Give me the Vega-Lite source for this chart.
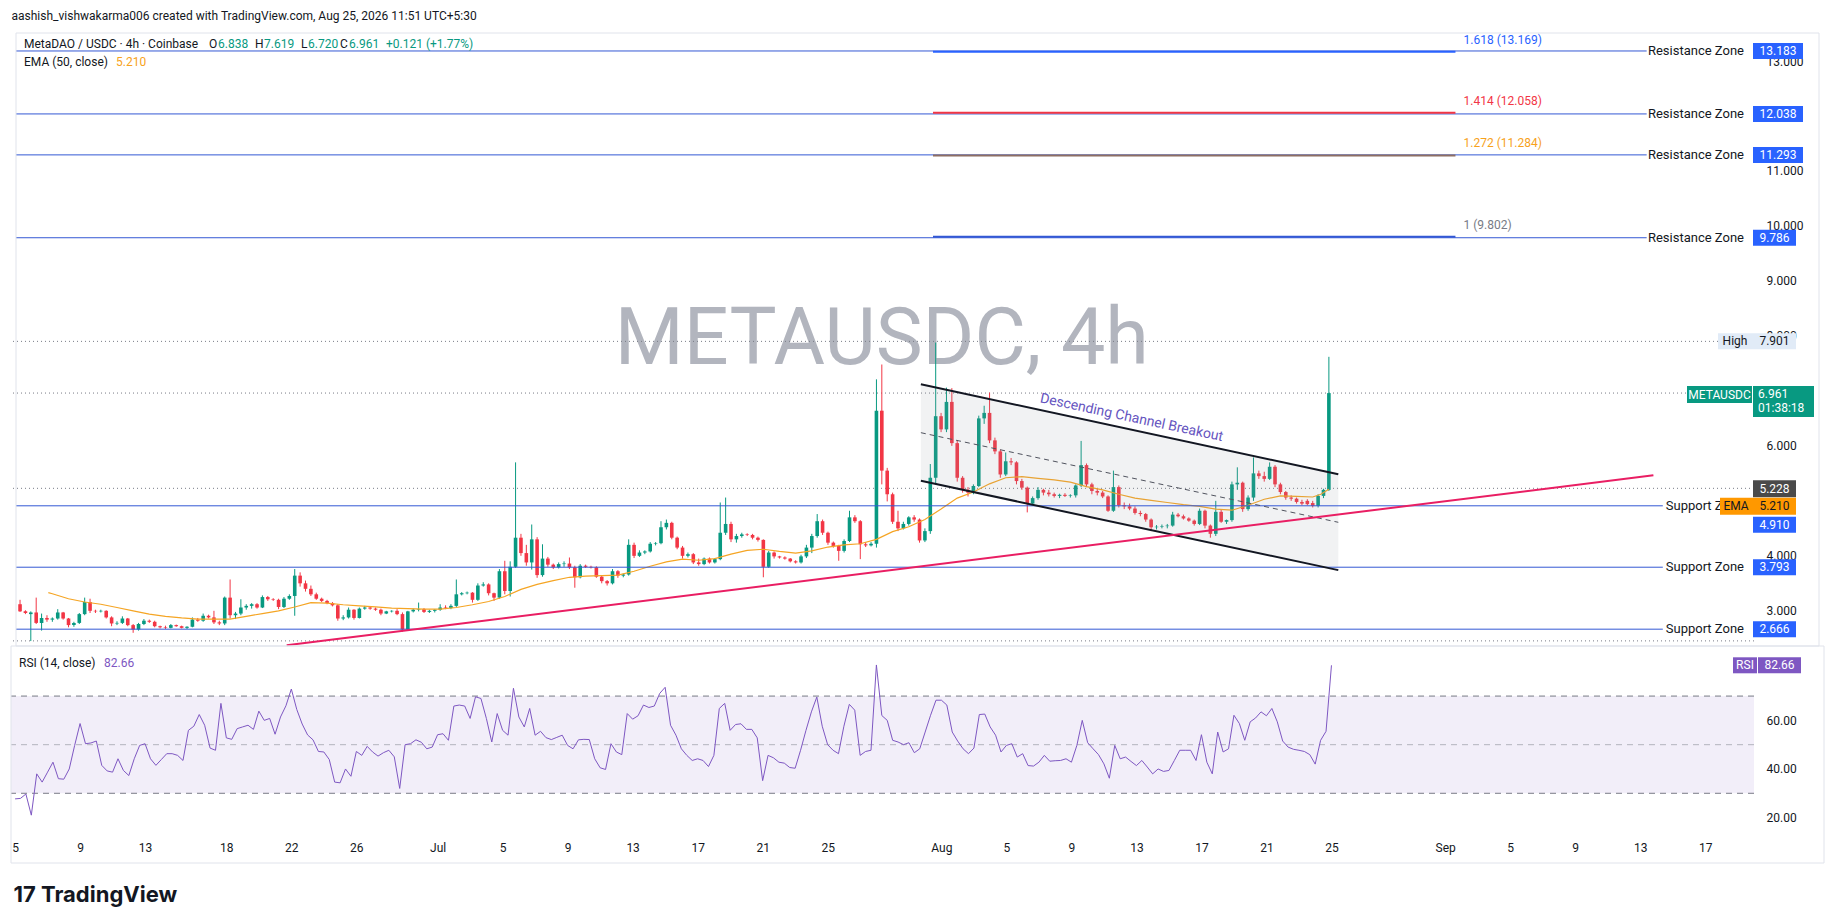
{
  "$schema": "https://vega.github.io/schema/vega-lite/v6.json",
  "padding": {"left": 10, "top": 9, "right": 0, "bottom": 5},
  "background": "#ffffff",
  "title": {"text": "aashish_vishwakarma006 created with TradingView.com, Aug 25, 2026 11:51 UTC+5:30", "anchor": "start", "fontSize": 12, "fontWeight": "normal", "color": "#131722", "offset": 10, "dx": 1},
  "config": {"font": "Roboto", "view": {"stroke": null}, "axis": {"grid": false, "ticks": false, "domain": false, "labelColor": "#131722", "labelFontSize": 12}},
  "bounds": "flush",
  "spacing": 0,
  "resolve": {"scale": {"y": "independent"}},
  "datasets": {
    "c": [
      {"t":"2026-06-05T00:00Z","o":3.12,"h":3.2,"l":2.98,"c":2.99,"r":27.7},
      {"t":"2026-06-05T08:00Z","o":2.99,"h":3.01,"l":2.94,"c":2.96,"r":27.9},
      {"t":"2026-06-05T16:00Z","o":2.94,"h":2.99,"l":2.45,"c":2.97,"r":29.7},
      {"t":"2026-06-06T00:00Z","o":2.97,"h":3.24,"l":2.76,"c":2.78,"r":21},
      {"t":"2026-06-06T08:00Z","o":2.78,"h":2.95,"l":2.64,"c":2.87,"r":38},
      {"t":"2026-06-06T16:00Z","o":2.87,"h":2.92,"l":2.8,"c":2.84,"r":34.6},
      {"t":"2026-06-07T00:00Z","o":2.84,"h":2.88,"l":2.8,"c":2.86,"r":38.7},
      {"t":"2026-06-07T08:00Z","o":2.86,"h":3.03,"l":2.84,"c":2.97,"r":42.8},
      {"t":"2026-06-07T16:00Z","o":2.97,"h":2.98,"l":2.84,"c":2.86,"r":36},
      {"t":"2026-06-08T00:00Z","o":2.86,"h":2.87,"l":2.7,"c":2.74,"r":35.8},
      {"t":"2026-06-08T08:00Z","o":2.74,"h":2.8,"l":2.71,"c":2.78,"r":40},
      {"t":"2026-06-08T16:00Z","o":2.78,"h":2.96,"l":2.76,"c":2.94,"r":49.7},
      {"t":"2026-06-09T00:00Z","o":2.94,"h":3.24,"l":2.92,"c":3.16,"r":58.7},
      {"t":"2026-06-09T08:00Z","o":3.16,"h":3.22,"l":2.96,"c":3.0,"r":50.4},
      {"t":"2026-06-09T16:00Z","o":3.0,"h":3.02,"l":2.96,"c":2.99,"r":50.7},
      {"t":"2026-06-10T00:00Z","o":2.99,"h":3.02,"l":2.97,"c":3.0,"r":51.5},
      {"t":"2026-06-10T08:00Z","o":3.0,"h":3.01,"l":2.86,"c":2.88,"r":41.5},
      {"t":"2026-06-10T16:00Z","o":2.88,"h":2.9,"l":2.72,"c":2.77,"r":39.2},
      {"t":"2026-06-11T00:00Z","o":2.77,"h":2.81,"l":2.74,"c":2.78,"r":38.7},
      {"t":"2026-06-11T08:00Z","o":2.78,"h":2.9,"l":2.76,"c":2.86,"r":44.2},
      {"t":"2026-06-11T16:00Z","o":2.86,"h":2.87,"l":2.72,"c":2.74,"r":39.4},
      {"t":"2026-06-12T00:00Z","o":2.74,"h":2.76,"l":2.6,"c":2.66,"r":37.3},
      {"t":"2026-06-12T08:00Z","o":2.66,"h":2.78,"l":2.64,"c":2.76,"r":44.2},
      {"t":"2026-06-12T16:00Z","o":2.76,"h":2.85,"l":2.74,"c":2.82,"r":49.7},
      {"t":"2026-06-13T00:00Z","o":2.82,"h":2.84,"l":2.78,"c":2.8,"r":50.4},
      {"t":"2026-06-13T08:00Z","o":2.8,"h":2.82,"l":2.7,"c":2.72,"r":44.2},
      {"t":"2026-06-13T16:00Z","o":2.72,"h":2.73,"l":2.68,"c":2.7,"r":41.5},
      {"t":"2026-06-14T00:00Z","o":2.7,"h":2.73,"l":2.67,"c":2.69,"r":43.9},
      {"t":"2026-06-14T08:00Z","o":2.69,"h":2.76,"l":2.68,"c":2.74,"r":46.3},
      {"t":"2026-06-14T16:00Z","o":2.74,"h":2.75,"l":2.71,"c":2.72,"r":46.3},
      {"t":"2026-06-15T00:00Z","o":2.72,"h":2.73,"l":2.68,"c":2.69,"r":45.6},
      {"t":"2026-06-15T08:00Z","o":2.69,"h":2.72,"l":2.67,"c":2.71,"r":43.5},
      {"t":"2026-06-15T16:00Z","o":2.71,"h":2.88,"l":2.7,"c":2.84,"r":55.9},
      {"t":"2026-06-16T00:00Z","o":2.84,"h":2.87,"l":2.8,"c":2.82,"r":57.6},
      {"t":"2026-06-16T08:00Z","o":2.82,"h":2.95,"l":2.8,"c":2.91,"r":62.4},
      {"t":"2026-06-16T16:00Z","o":2.91,"h":2.93,"l":2.86,"c":2.88,"r":58},
      {"t":"2026-06-17T00:00Z","o":2.88,"h":3.0,"l":2.76,"c":2.79,"r":48.6},
      {"t":"2026-06-17T08:00Z","o":2.79,"h":2.82,"l":2.74,"c":2.77,"r":47.7},
      {"t":"2026-06-17T16:00Z","o":2.77,"h":3.26,"l":2.74,"c":3.24,"r":67},
      {"t":"2026-06-18T00:00Z","o":3.24,"h":3.57,"l":2.86,"c":2.92,"r":52.8},
      {"t":"2026-06-18T08:00Z","o":2.92,"h":2.98,"l":2.85,"c":2.95,"r":52.2},
      {"t":"2026-06-18T16:00Z","o":2.95,"h":3.21,"l":2.92,"c":3.06,"r":56.6},
      {"t":"2026-06-19T00:00Z","o":3.06,"h":3.12,"l":3.02,"c":3.09,"r":57.3},
      {"t":"2026-06-19T08:00Z","o":3.09,"h":3.14,"l":3.04,"c":3.12,"r":58},
      {"t":"2026-06-19T16:00Z","o":3.12,"h":3.14,"l":3.04,"c":3.06,"r":56.3},
      {"t":"2026-06-20T00:00Z","o":3.06,"h":3.28,"l":3.05,"c":3.25,"r":63.8},
      {"t":"2026-06-20T08:00Z","o":3.25,"h":3.27,"l":3.18,"c":3.21,"r":60},
      {"t":"2026-06-20T16:00Z","o":3.21,"h":3.23,"l":3.18,"c":3.2,"r":60.8},
      {"t":"2026-06-21T00:00Z","o":3.2,"h":3.22,"l":3.03,"c":3.07,"r":54.3},
      {"t":"2026-06-21T08:00Z","o":3.07,"h":3.25,"l":3.05,"c":3.22,"r":61.4},
      {"t":"2026-06-21T16:00Z","o":3.22,"h":3.3,"l":3.2,"c":3.27,"r":66},
      {"t":"2026-06-22T00:00Z","o":3.27,"h":3.76,"l":2.91,"c":3.64,"r":72.9},
      {"t":"2026-06-22T08:00Z","o":3.64,"h":3.7,"l":3.44,"c":3.5,"r":64.5},
      {"t":"2026-06-22T16:00Z","o":3.5,"h":3.55,"l":3.35,"c":3.4,"r":58.5},
      {"t":"2026-06-23T00:00Z","o":3.4,"h":3.46,"l":3.27,"c":3.3,"r":54},
      {"t":"2026-06-23T08:00Z","o":3.3,"h":3.33,"l":3.2,"c":3.22,"r":52},
      {"t":"2026-06-23T16:00Z","o":3.22,"h":3.24,"l":3.16,"c":3.18,"r":47.2},
      {"t":"2026-06-24T00:00Z","o":3.18,"h":3.2,"l":3.12,"c":3.14,"r":47},
      {"t":"2026-06-24T08:00Z","o":3.14,"h":3.16,"l":3.08,"c":3.1,"r":43.9},
      {"t":"2026-06-24T16:00Z","o":3.1,"h":3.12,"l":2.82,"c":2.86,"r":34.6},
      {"t":"2026-06-25T00:00Z","o":2.86,"h":2.92,"l":2.83,"c":2.88,"r":34.3},
      {"t":"2026-06-25T08:00Z","o":2.88,"h":3.06,"l":2.86,"c":3.02,"r":40},
      {"t":"2026-06-25T16:00Z","o":3.02,"h":3.03,"l":2.84,"c":2.87,"r":37},
      {"t":"2026-06-26T00:00Z","o":2.87,"h":3.06,"l":2.86,"c":3.04,"r":47.2},
      {"t":"2026-06-26T08:00Z","o":3.04,"h":3.09,"l":3.02,"c":3.06,"r":45.6},
      {"t":"2026-06-26T16:00Z","o":3.06,"h":3.08,"l":3.02,"c":3.04,"r":49.3},
      {"t":"2026-06-27T00:00Z","o":3.04,"h":3.06,"l":3.0,"c":3.02,"r":47},
      {"t":"2026-06-27T08:00Z","o":3.02,"h":3.04,"l":2.92,"c":2.95,"r":45.3},
      {"t":"2026-06-27T16:00Z","o":2.95,"h":3.0,"l":2.94,"c":2.99,"r":46.7},
      {"t":"2026-06-28T00:00Z","o":2.99,"h":3.01,"l":2.97,"c":3.0,"r":47.7},
      {"t":"2026-06-28T08:00Z","o":3.0,"h":3.03,"l":2.92,"c":2.94,"r":45},
      {"t":"2026-06-28T16:00Z","o":2.94,"h":2.97,"l":2.62,"c":2.66,"r":32},
      {"t":"2026-06-29T00:00Z","o":2.66,"h":3.0,"l":2.64,"c":2.99,"r":50},
      {"t":"2026-06-29T08:00Z","o":2.99,"h":3.04,"l":2.97,"c":3.02,"r":50.4},
      {"t":"2026-06-29T16:00Z","o":3.02,"h":3.15,"l":2.99,"c":3.03,"r":52},
      {"t":"2026-06-30T00:00Z","o":3.03,"h":3.05,"l":2.96,"c":2.98,"r":51},
      {"t":"2026-06-30T08:00Z","o":2.98,"h":3.02,"l":2.96,"c":3.0,"r":48.3},
      {"t":"2026-06-30T16:00Z","o":3.0,"h":3.03,"l":2.97,"c":3.02,"r":49},
      {"t":"2026-07-01T00:00Z","o":3.02,"h":3.12,"l":3.0,"c":3.06,"r":54.1},
      {"t":"2026-07-01T08:00Z","o":3.06,"h":3.1,"l":3.03,"c":3.05,"r":54.5},
      {"t":"2026-07-01T16:00Z","o":3.05,"h":3.12,"l":3.03,"c":3.09,"r":51.8},
      {"t":"2026-07-02T00:00Z","o":3.09,"h":3.57,"l":3.07,"c":3.3,"r":65.9},
      {"t":"2026-07-02T08:00Z","o":3.3,"h":3.34,"l":3.28,"c":3.32,"r":66.3},
      {"t":"2026-07-02T16:00Z","o":3.32,"h":3.35,"l":3.3,"c":3.33,"r":65.9},
      {"t":"2026-07-03T00:00Z","o":3.33,"h":3.34,"l":3.15,"c":3.2,"r":60.8},
      {"t":"2026-07-03T08:00Z","o":3.2,"h":3.5,"l":3.18,"c":3.46,"r":69.7},
      {"t":"2026-07-03T16:00Z","o":3.46,"h":3.52,"l":3.44,"c":3.48,"r":69},
      {"t":"2026-07-04T00:00Z","o":3.48,"h":3.5,"l":3.28,"c":3.32,"r":60.8},
      {"t":"2026-07-04T08:00Z","o":3.32,"h":3.33,"l":3.18,"c":3.24,"r":51.1},
      {"t":"2026-07-04T16:00Z","o":3.24,"h":3.76,"l":3.22,"c":3.72,"r":62.8},
      {"t":"2026-07-05T00:00Z","o":3.72,"h":3.91,"l":3.3,"c":3.36,"r":55.9},
      {"t":"2026-07-05T08:00Z","o":3.36,"h":3.9,"l":3.26,"c":3.8,"r":53.9},
      {"t":"2026-07-05T16:00Z","o":3.8,"h":5.7,"l":3.78,"c":4.33,"r":73.2},
      {"t":"2026-07-06T00:00Z","o":4.33,"h":4.4,"l":4.0,"c":4.05,"r":61.4},
      {"t":"2026-07-06T08:00Z","o":4.05,"h":4.2,"l":3.82,"c":3.88,"r":57.3},
      {"t":"2026-07-06T16:00Z","o":3.88,"h":4.57,"l":3.75,"c":4.3,"r":64.9},
      {"t":"2026-07-07T00:00Z","o":4.3,"h":4.34,"l":3.6,"c":3.65,"r":53.9},
      {"t":"2026-07-07T08:00Z","o":3.65,"h":4.21,"l":3.62,"c":3.95,"r":55.5},
      {"t":"2026-07-07T16:00Z","o":3.95,"h":3.98,"l":3.8,"c":3.84,"r":52.9},
      {"t":"2026-07-08T00:00Z","o":3.84,"h":3.86,"l":3.76,"c":3.79,"r":52.1},
      {"t":"2026-07-08T08:00Z","o":3.79,"h":3.88,"l":3.77,"c":3.85,"r":53},
      {"t":"2026-07-08T16:00Z","o":3.85,"h":3.9,"l":3.8,"c":3.86,"r":53.9},
      {"t":"2026-07-09T00:00Z","o":3.86,"h":3.97,"l":3.76,"c":3.79,"r":49.7},
      {"t":"2026-07-09T08:00Z","o":3.79,"h":3.82,"l":3.42,"c":3.61,"r":48.3},
      {"t":"2026-07-09T16:00Z","o":3.61,"h":3.85,"l":3.59,"c":3.82,"r":52},
      {"t":"2026-07-10T00:00Z","o":3.82,"h":3.84,"l":3.78,"c":3.8,"r":52.2},
      {"t":"2026-07-10T08:00Z","o":3.8,"h":3.82,"l":3.77,"c":3.79,"r":52.1},
      {"t":"2026-07-10T16:00Z","o":3.79,"h":3.81,"l":3.6,"c":3.62,"r":44.2},
      {"t":"2026-07-11T00:00Z","o":3.62,"h":3.64,"l":3.5,"c":3.54,"r":40.5},
      {"t":"2026-07-11T08:00Z","o":3.54,"h":3.56,"l":3.46,"c":3.5,"r":39.8},
      {"t":"2026-07-11T16:00Z","o":3.5,"h":3.76,"l":3.48,"c":3.72,"r":50.4},
      {"t":"2026-07-12T00:00Z","o":3.72,"h":3.74,"l":3.6,"c":3.64,"r":47},
      {"t":"2026-07-12T08:00Z","o":3.64,"h":3.68,"l":3.61,"c":3.66,"r":45.9},
      {"t":"2026-07-12T16:00Z","o":3.66,"h":4.3,"l":3.64,"c":4.2,"r":62.8},
      {"t":"2026-07-13T00:00Z","o":4.2,"h":4.24,"l":3.96,"c":4.0,"r":60.5},
      {"t":"2026-07-13T08:00Z","o":4.0,"h":4.1,"l":3.98,"c":4.06,"r":61.9},
      {"t":"2026-07-13T16:00Z","o":4.06,"h":4.1,"l":4.03,"c":4.08,"r":66.3},
      {"t":"2026-07-14T00:00Z","o":4.08,"h":4.25,"l":4.06,"c":4.22,"r":65.3},
      {"t":"2026-07-14T08:00Z","o":4.22,"h":4.25,"l":4.19,"c":4.23,"r":65.9},
      {"t":"2026-07-14T16:00Z","o":4.23,"h":4.63,"l":4.21,"c":4.52,"r":71.1},
      {"t":"2026-07-15T00:00Z","o":4.52,"h":4.66,"l":4.48,"c":4.6,"r":73.6},
      {"t":"2026-07-15T08:00Z","o":4.6,"h":4.62,"l":4.3,"c":4.33,"r":58},
      {"t":"2026-07-15T16:00Z","o":4.33,"h":4.35,"l":4.12,"c":4.15,"r":53.9},
      {"t":"2026-07-16T00:00Z","o":4.15,"h":4.18,"l":3.95,"c":4.0,"r":48.3},
      {"t":"2026-07-16T08:00Z","o":4.0,"h":4.06,"l":3.97,"c":4.03,"r":45.6},
      {"t":"2026-07-16T16:00Z","o":4.03,"h":4.05,"l":3.85,"c":3.88,"r":43.5},
      {"t":"2026-07-17T00:00Z","o":3.88,"h":3.95,"l":3.82,"c":3.85,"r":44.2},
      {"t":"2026-07-17T08:00Z","o":3.85,"h":3.97,"l":3.83,"c":3.95,"r":43.5},
      {"t":"2026-07-17T16:00Z","o":3.95,"h":3.97,"l":3.86,"c":3.88,"r":41},
      {"t":"2026-07-18T00:00Z","o":3.88,"h":3.96,"l":3.86,"c":3.94,"r":45.6},
      {"t":"2026-07-18T08:00Z","o":3.94,"h":4.97,"l":3.92,"c":4.42,"r":64.9},
      {"t":"2026-07-18T16:00Z","o":4.42,"h":5.06,"l":4.38,"c":4.58,"r":67},
      {"t":"2026-07-19T00:00Z","o":4.58,"h":4.62,"l":4.25,"c":4.3,"r":55.9},
      {"t":"2026-07-19T08:00Z","o":4.3,"h":4.4,"l":4.24,"c":4.36,"r":58.3},
      {"t":"2026-07-19T16:00Z","o":4.36,"h":4.42,"l":4.33,"c":4.39,"r":58.6},
      {"t":"2026-07-20T00:00Z","o":4.39,"h":4.41,"l":4.36,"c":4.38,"r":56.3},
      {"t":"2026-07-20T08:00Z","o":4.38,"h":4.4,"l":4.3,"c":4.33,"r":56.3},
      {"t":"2026-07-20T16:00Z","o":4.33,"h":4.35,"l":4.26,"c":4.29,"r":52.8},
      {"t":"2026-07-21T00:00Z","o":4.29,"h":4.3,"l":3.61,"c":3.8,"r":35.2},
      {"t":"2026-07-21T08:00Z","o":3.8,"h":4.09,"l":3.78,"c":4.06,"r":45.6},
      {"t":"2026-07-21T16:00Z","o":4.06,"h":4.08,"l":3.95,"c":3.99,"r":44.6},
      {"t":"2026-07-22T00:00Z","o":3.99,"h":4.0,"l":3.95,"c":3.97,"r":42.8},
      {"t":"2026-07-22T08:00Z","o":3.97,"h":3.99,"l":3.93,"c":3.95,"r":42.4},
      {"t":"2026-07-22T16:00Z","o":3.95,"h":3.96,"l":3.88,"c":3.9,"r":40.6},
      {"t":"2026-07-23T00:00Z","o":3.9,"h":3.92,"l":3.86,"c":3.88,"r":40.3},
      {"t":"2026-07-23T08:00Z","o":3.88,"h":4.02,"l":3.86,"c":3.99,"r":47.7},
      {"t":"2026-07-23T16:00Z","o":3.99,"h":4.2,"l":3.96,"c":4.15,"r":55.9},
      {"t":"2026-07-24T00:00Z","o":4.15,"h":4.4,"l":4.05,"c":4.36,"r":63.5},
      {"t":"2026-07-24T08:00Z","o":4.36,"h":4.76,"l":4.33,"c":4.63,"r":69.6},
      {"t":"2026-07-24T16:00Z","o":4.63,"h":4.66,"l":4.38,"c":4.42,"r":57.6},
      {"t":"2026-07-25T00:00Z","o":4.42,"h":4.44,"l":4.2,"c":4.24,"r":50},
      {"t":"2026-07-25T08:00Z","o":4.24,"h":4.26,"l":4.15,"c":4.18,"r":47.7},
      {"t":"2026-07-25T16:00Z","o":4.18,"h":4.2,"l":3.91,"c":4.09,"r":46.3},
      {"t":"2026-07-26T00:00Z","o":4.09,"h":4.3,"l":4.06,"c":4.27,"r":57.6},
      {"t":"2026-07-26T08:00Z","o":4.27,"h":4.82,"l":4.25,"c":4.7,"r":66.6},
      {"t":"2026-07-26T16:00Z","o":4.7,"h":4.74,"l":4.6,"c":4.63,"r":64.2},
      {"t":"2026-07-27T00:00Z","o":4.63,"h":4.65,"l":3.94,"c":4.21,"r":45.6},
      {"t":"2026-07-27T08:00Z","o":4.21,"h":4.25,"l":4.16,"c":4.19,"r":47.2},
      {"t":"2026-07-27T16:00Z","o":4.19,"h":4.25,"l":4.17,"c":4.22,"r":47.7},
      {"t":"2026-07-28T00:00Z","o":4.22,"h":7.21,"l":4.15,"c":6.64,"r":82.8},
      {"t":"2026-07-28T08:00Z","o":6.64,"h":7.48,"l":5.3,"c":5.55,"r":62},
      {"t":"2026-07-28T16:00Z","o":5.55,"h":5.6,"l":4.99,"c":5.12,"r":60},
      {"t":"2026-07-29T00:00Z","o":5.12,"h":5.15,"l":4.58,"c":4.62,"r":51.8},
      {"t":"2026-07-29T08:00Z","o":4.62,"h":4.82,"l":4.45,"c":4.5,"r":51.1},
      {"t":"2026-07-29T16:00Z","o":4.5,"h":4.62,"l":4.48,"c":4.58,"r":50},
      {"t":"2026-07-30T00:00Z","o":4.58,"h":4.72,"l":4.55,"c":4.7,"r":50.8},
      {"t":"2026-07-30T08:00Z","o":4.7,"h":4.74,"l":4.62,"c":4.66,"r":46.7},
      {"t":"2026-07-30T16:00Z","o":4.66,"h":4.68,"l":4.24,"c":4.28,"r":48.3},
      {"t":"2026-07-31T00:00Z","o":4.28,"h":4.5,"l":4.25,"c":4.45,"r":55.2},
      {"t":"2026-07-31T08:00Z","o":4.45,"h":5.67,"l":4.4,"c":5.42,"r":62.1},
      {"t":"2026-07-31T16:00Z","o":5.42,"h":7.88,"l":5.3,"c":6.54,"r":68.3},
      {"t":"2026-08-01T00:00Z","o":6.54,"h":6.6,"l":6.25,"c":6.3,"r":68.3},
      {"t":"2026-08-01T08:00Z","o":6.3,"h":7.06,"l":6.25,"c":6.8,"r":66.3},
      {"t":"2026-08-01T16:00Z","o":6.8,"h":7.05,"l":6.0,"c":6.05,"r":55.2},
      {"t":"2026-08-02T00:00Z","o":6.05,"h":6.1,"l":5.35,"c":5.42,"r":51.5},
      {"t":"2026-08-02T08:00Z","o":5.42,"h":5.45,"l":5.15,"c":5.2,"r":48.3},
      {"t":"2026-08-02T16:00Z","o":5.2,"h":5.25,"l":5.08,"c":5.15,"r":46.3},
      {"t":"2026-08-03T00:00Z","o":5.15,"h":5.3,"l":5.12,"c":5.27,"r":48.6},
      {"t":"2026-08-03T08:00Z","o":5.27,"h":6.55,"l":5.25,"c":6.5,"r":62.4},
      {"t":"2026-08-03T16:00Z","o":6.5,"h":6.73,"l":6.4,"c":6.6,"r":62.6},
      {"t":"2026-08-04T00:00Z","o":6.6,"h":6.97,"l":6.05,"c":6.1,"r":57.3},
      {"t":"2026-08-04T08:00Z","o":6.1,"h":6.15,"l":5.85,"c":5.9,"r":53.9},
      {"t":"2026-08-04T16:00Z","o":5.9,"h":5.93,"l":5.42,"c":5.48,"r":47},
      {"t":"2026-08-05T00:00Z","o":5.48,"h":5.88,"l":5.45,"c":5.72,"r":49.7},
      {"t":"2026-08-05T08:00Z","o":5.72,"h":5.78,"l":5.65,"c":5.7,"r":50.4},
      {"t":"2026-08-05T16:00Z","o":5.7,"h":5.72,"l":5.3,"c":5.36,"r":44.9},
      {"t":"2026-08-06T00:00Z","o":5.36,"h":5.4,"l":5.2,"c":5.24,"r":46.3},
      {"t":"2026-08-06T08:00Z","o":5.24,"h":5.26,"l":4.79,"c":4.95,"r":41.4},
      {"t":"2026-08-06T16:00Z","o":4.95,"h":5.08,"l":4.93,"c":5.05,"r":41.2},
      {"t":"2026-08-07T00:00Z","o":5.05,"h":5.25,"l":5.02,"c":5.2,"r":42.8},
      {"t":"2026-08-07T08:00Z","o":5.2,"h":5.22,"l":5.1,"c":5.15,"r":45.6},
      {"t":"2026-08-07T16:00Z","o":5.15,"h":5.2,"l":5.08,"c":5.12,"r":43.2},
      {"t":"2026-08-08T00:00Z","o":5.12,"h":5.15,"l":5.06,"c":5.09,"r":43.4},
      {"t":"2026-08-08T08:00Z","o":5.09,"h":5.13,"l":5.05,"c":5.11,"r":43.5},
      {"t":"2026-08-08T16:00Z","o":5.11,"h":5.14,"l":5.07,"c":5.09,"r":44.2},
      {"t":"2026-08-09T00:00Z","o":5.09,"h":5.12,"l":5.06,"c":5.1,"r":42.8},
      {"t":"2026-08-09T08:00Z","o":5.1,"h":5.3,"l":5.06,"c":5.28,"r":49.7},
      {"t":"2026-08-09T16:00Z","o":5.28,"h":6.09,"l":5.25,"c":5.65,"r":60},
      {"t":"2026-08-10T00:00Z","o":5.65,"h":5.68,"l":5.25,"c":5.3,"r":50.8},
      {"t":"2026-08-10T08:00Z","o":5.3,"h":5.33,"l":5.12,"c":5.18,"r":48.3},
      {"t":"2026-08-10T16:00Z","o":5.18,"h":5.22,"l":5.1,"c":5.15,"r":45.9},
      {"t":"2026-08-11T00:00Z","o":5.15,"h":5.18,"l":5.05,"c":5.08,"r":42.1},
      {"t":"2026-08-11T08:00Z","o":5.08,"h":5.1,"l":4.8,"c":4.82,"r":36.2},
      {"t":"2026-08-11T16:00Z","o":4.82,"h":5.55,"l":4.8,"c":5.25,"r":49.7},
      {"t":"2026-08-12T00:00Z","o":5.25,"h":5.28,"l":4.88,"c":4.92,"r":44.2},
      {"t":"2026-08-12T08:00Z","o":4.92,"h":4.97,"l":4.85,"c":4.9,"r":44.9},
      {"t":"2026-08-12T16:00Z","o":4.9,"h":4.95,"l":4.83,"c":4.86,"r":43.1},
      {"t":"2026-08-13T00:00Z","o":4.86,"h":4.9,"l":4.75,"c":4.78,"r":41.4},
      {"t":"2026-08-13T08:00Z","o":4.78,"h":4.82,"l":4.72,"c":4.76,"r":43.5},
      {"t":"2026-08-13T16:00Z","o":4.76,"h":4.78,"l":4.62,"c":4.66,"r":40.8},
      {"t":"2026-08-14T00:00Z","o":4.66,"h":4.68,"l":4.45,"c":4.52,"r":38},
      {"t":"2026-08-14T08:00Z","o":4.52,"h":4.56,"l":4.48,"c":4.53,"r":40},
      {"t":"2026-08-14T16:00Z","o":4.53,"h":4.57,"l":4.5,"c":4.54,"r":39},
      {"t":"2026-08-15T00:00Z","o":4.54,"h":4.58,"l":4.5,"c":4.55,"r":39.4},
      {"t":"2026-08-15T08:00Z","o":4.55,"h":4.8,"l":4.53,"c":4.75,"r":43.5},
      {"t":"2026-08-15T16:00Z","o":4.75,"h":4.78,"l":4.7,"c":4.72,"r":47.7},
      {"t":"2026-08-16T00:00Z","o":4.72,"h":4.75,"l":4.66,"c":4.68,"r":47.7},
      {"t":"2026-08-16T08:00Z","o":4.68,"h":4.7,"l":4.62,"c":4.64,"r":47.7},
      {"t":"2026-08-16T16:00Z","o":4.64,"h":4.66,"l":4.55,"c":4.58,"r":43.5},
      {"t":"2026-08-17T00:00Z","o":4.58,"h":4.86,"l":4.56,"c":4.82,"r":54.1},
      {"t":"2026-08-17T08:00Z","o":4.82,"h":4.84,"l":4.5,"c":4.55,"r":42.8},
      {"t":"2026-08-17T16:00Z","o":4.55,"h":4.57,"l":4.33,"c":4.4,"r":38},
      {"t":"2026-08-18T00:00Z","o":4.4,"h":5.0,"l":4.36,"c":4.8,"r":55.2},
      {"t":"2026-08-18T08:00Z","o":4.8,"h":4.85,"l":4.6,"c":4.62,"r":47},
      {"t":"2026-08-18T16:00Z","o":4.62,"h":4.66,"l":4.58,"c":4.65,"r":48.3},
      {"t":"2026-08-19T00:00Z","o":4.65,"h":5.35,"l":4.62,"c":5.3,"r":62.1},
      {"t":"2026-08-19T08:00Z","o":5.3,"h":5.61,"l":5.2,"c":5.33,"r":58.7},
      {"t":"2026-08-19T16:00Z","o":5.33,"h":5.35,"l":4.8,"c":4.85,"r":51.8},
      {"t":"2026-08-20T00:00Z","o":4.85,"h":5.1,"l":4.82,"c":5.06,"r":59.4},
      {"t":"2026-08-20T08:00Z","o":5.06,"h":5.79,"l":5.0,"c":5.5,"r":61},
      {"t":"2026-08-20T16:00Z","o":5.5,"h":5.55,"l":5.4,"c":5.45,"r":63.5},
      {"t":"2026-08-21T00:00Z","o":5.45,"h":5.53,"l":5.35,"c":5.4,"r":61.9},
      {"t":"2026-08-21T08:00Z","o":5.4,"h":5.7,"l":5.38,"c":5.62,"r":64.9},
      {"t":"2026-08-21T16:00Z","o":5.62,"h":5.65,"l":5.25,"c":5.3,"r":59.4},
      {"t":"2026-08-22T00:00Z","o":5.3,"h":5.33,"l":5.12,"c":5.16,"r":51.5},
      {"t":"2026-08-22T08:00Z","o":5.16,"h":5.18,"l":5.02,"c":5.06,"r":49},
      {"t":"2026-08-22T16:00Z","o":5.06,"h":5.1,"l":5.0,"c":5.04,"r":48.1},
      {"t":"2026-08-23T00:00Z","o":5.04,"h":5.06,"l":4.95,"c":4.98,"r":47.7},
      {"t":"2026-08-23T08:00Z","o":4.98,"h":5.02,"l":4.92,"c":4.95,"r":47.2},
      {"t":"2026-08-23T16:00Z","o":5.0,"h":5.03,"l":4.92,"c":4.94,"r":45.9},
      {"t":"2026-08-24T00:00Z","o":4.96,"h":5.0,"l":4.88,"c":4.91,"r":42},
      {"t":"2026-08-24T08:00Z","o":4.91,"h":5.12,"l":4.88,"c":5.09,"r":51.8},
      {"t":"2026-08-24T16:00Z","o":5.09,"h":5.22,"l":5.05,"c":5.2,"r":55.5},
      {"t":"2026-08-25T00:00Z","o":5.2,"h":7.62,"l":5.18,"c":6.96,"r":82.66}
    ],
    "ema": [
      {"t":"2026-06-06T18:00Z","e":3.33},{"t":"2026-06-07T00:00Z","e":3.31},{"t":"2026-06-08T00:00Z","e":3.22},{"t":"2026-06-09T00:00Z","e":3.16},
      {"t":"2026-06-10T00:00Z","e":3.12},{"t":"2026-06-11T00:00Z","e":3.06},{"t":"2026-06-12T00:00Z","e":3.0},{"t":"2026-06-13T00:00Z","e":2.94},
      {"t":"2026-06-14T00:00Z","e":2.9},{"t":"2026-06-15T00:00Z","e":2.87},{"t":"2026-06-16T00:00Z","e":2.85},{"t":"2026-06-17T00:00Z","e":2.85},
      {"t":"2026-06-18T00:00Z","e":2.85},{"t":"2026-06-19T00:00Z","e":2.9},{"t":"2026-06-20T00:00Z","e":2.95},{"t":"2026-06-21T00:00Z","e":3.0},
      {"t":"2026-06-22T00:00Z","e":3.07},{"t":"2026-06-23T00:00Z","e":3.15},{"t":"2026-06-24T00:00Z","e":3.14},{"t":"2026-06-25T00:00Z","e":3.11},
      {"t":"2026-06-26T00:00Z","e":3.09},{"t":"2026-06-27T00:00Z","e":3.07},{"t":"2026-06-28T00:00Z","e":3.05},{"t":"2026-06-29T00:00Z","e":3.04},
      {"t":"2026-06-30T00:00Z","e":3.03},{"t":"2026-07-01T00:00Z","e":3.03},{"t":"2026-07-02T00:00Z","e":3.06},{"t":"2026-07-03T00:00Z","e":3.11},
      {"t":"2026-07-04T00:00Z","e":3.17},{"t":"2026-07-05T00:00Z","e":3.26},{"t":"2026-07-06T00:00Z","e":3.39},{"t":"2026-07-07T00:00Z","e":3.48},
      {"t":"2026-07-08T00:00Z","e":3.55},{"t":"2026-07-09T00:00Z","e":3.61},{"t":"2026-07-10T00:00Z","e":3.63},{"t":"2026-07-11T00:00Z","e":3.64},
      {"t":"2026-07-12T00:00Z","e":3.65},{"t":"2026-07-13T00:00Z","e":3.72},{"t":"2026-07-14T00:00Z","e":3.81},{"t":"2026-07-15T00:00Z","e":3.89},
      {"t":"2026-07-16T00:00Z","e":3.94},{"t":"2026-07-17T00:00Z","e":3.92},{"t":"2026-07-18T00:00Z","e":3.95},{"t":"2026-07-19T00:00Z","e":4.03},
      {"t":"2026-07-20T00:00Z","e":4.1},{"t":"2026-07-21T00:00Z","e":4.12},{"t":"2026-07-22T00:00Z","e":4.08},{"t":"2026-07-23T00:00Z","e":4.05},
      {"t":"2026-07-24T00:00Z","e":4.09},{"t":"2026-07-25T00:00Z","e":4.16},{"t":"2026-07-26T00:00Z","e":4.2},{"t":"2026-07-27T00:00Z","e":4.22},
      {"t":"2026-07-28T00:00Z","e":4.3},{"t":"2026-07-29T00:00Z","e":4.44},{"t":"2026-07-30T00:00Z","e":4.53},{"t":"2026-07-31T00:00Z","e":4.66},
      {"t":"2026-08-01T00:00Z","e":4.85},{"t":"2026-08-02T00:00Z","e":5.05},{"t":"2026-08-03T00:00Z","e":5.16},{"t":"2026-08-04T00:00Z","e":5.31},
      {"t":"2026-08-05T00:00Z","e":5.42},{"t":"2026-08-06T00:00Z","e":5.44},{"t":"2026-08-07T00:00Z","e":5.41},{"t":"2026-08-08T00:00Z","e":5.38},
      {"t":"2026-08-09T00:00Z","e":5.34},{"t":"2026-08-10T00:00Z","e":5.26},{"t":"2026-08-11T00:00Z","e":5.2},{"t":"2026-08-12T00:00Z","e":5.12},
      {"t":"2026-08-13T00:00Z","e":5.05},{"t":"2026-08-14T00:00Z","e":5.01},{"t":"2026-08-15T00:00Z","e":4.97},{"t":"2026-08-16T00:00Z","e":4.93},
      {"t":"2026-08-17T00:00Z","e":4.9},{"t":"2026-08-18T00:00Z","e":4.85},{"t":"2026-08-19T00:00Z","e":4.83},{"t":"2026-08-20T00:00Z","e":4.92},
      {"t":"2026-08-21T00:00Z","e":5.03},{"t":"2026-08-22T00:00Z","e":5.09},{"t":"2026-08-23T00:00Z","e":5.08},{"t":"2026-08-24T00:00Z","e":5.07},
      {"t":"2026-08-24T12:00Z","e":5.12},{"t":"2026-08-25T00:00Z","e":5.21}
    ]
  },
  "vconcat": [
    {
      "width": 1743,
      "height": 613,
      "resolve": {"axis": {"x": "independent", "y": "independent"}},
      "layer": [
        {
          "data": {"values": [{"t": "2026-07-28T08:00Z", "p": 7.49, "s": "METAUSDC, 4h"}]},
          "mark": {"type": "text", "fontSize": 79, "color": "#b2b5be", "align": "center", "baseline": "alphabetic"},
          "encoding": {
            "x": {"field": "t", "type": "temporal", "axis": null},
            "y": {"field": "p", "type": "quantitative", "axis": null},
            "text": {"field": "s"}
          }
        },
        {
          "data": {"values": [{"p": 7.901}, {"p": 6.961}, {"p": 5.228}, {"p": 2.453}]},
          "mark": {"type": "rule", "color": "#787b86", "strokeDash": [1, 3], "strokeWidth": 1},
          "encoding": {"y": {"field": "p", "type": "quantitative", "axis": null}}
        },
        {
          "data": {"name": "c"},
          "resolve": {"axis": {"x": "independent", "y": "independent"}},
          "encoding": {
            "x": {"field": "t", "type": "temporal", "axis": null,
                  "scale": {"type": "utc", "nice": false, "domain": [{"year": 2026, "month": 6, "date": 4, "hours": 18, "utc": true}, {"year": 2026, "month": 9, "date": 20, "utc": true}]}},
            "color": {"condition": {"test": "datum.c >= datum.o", "value": "#089981"}, "value": "#f23645"}
          },
          "layer": [
            {
              "mark": {"type": "rule", "strokeWidth": 1},
              "encoding": {
                "y": {"field": "l", "type": "quantitative", "scale": {"domain": [2.36, 13.51], "nice": false, "zero": false},
                      "axis": {"orient": "right", "values": [3, 4, 6, 8, 9, 10, 11, 13], "format": ".3f", "labelPadding": 12, "title": null}},
                "y2": {"field": "h"}
              }
            },
            {
              "mark": {"type": "bar", "width": 3.6},
              "encoding": {
                "y": {"field": "o", "type": "quantitative", "axis": null},
                "y2": {"field": "c"}
              }
            }
          ]
        },
        {
          "data": {"name": "ema"},
          "mark": {"type": "line", "color": "#f5a524", "strokeWidth": 1.2},
          "encoding": {
            "x": {"field": "t", "type": "temporal", "axis": null},
            "y": {"field": "e", "type": "quantitative", "axis": null}
          }
        },
        {
          "data": {"values": [{"t": "2026-07-30T18:00Z", "u": 7.12, "b": 5.364}, {"t": "2026-08-25T14:00Z", "u": 5.485, "b": 3.74}]},
          "mark": {"type": "area", "color": "#9598a1", "opacity": 0.13},
          "encoding": {
            "x": {"field": "t", "type": "temporal", "axis": null},
            "y": {"field": "u", "type": "quantitative", "axis": null},
            "y2": {"field": "b"}
          }
        },
        {
          "data": {"values": [{"p": 13.183}, {"p": 12.038}, {"p": 11.293}, {"p": 9.786}]},
          "mark": {"type": "rule", "color": "#3358d4", "strokeWidth": 1},
          "encoding": {
            "x": {"datum": {"year": 2026, "month": 6, "date": 4, "hours": 18, "utc": true}, "type": "temporal", "axis": null},
            "x2": {"datum": {"year": 2026, "month": 9, "date": 13, "hours": 16, "utc": true}},
            "y": {"field": "p", "type": "quantitative", "axis": null}
          }
        },
        {
          "data": {"values": [{"p": 4.91}, {"p": 3.793}, {"p": 2.666}]},
          "mark": {"type": "rule", "color": "#3358d4", "strokeWidth": 1},
          "encoding": {
            "x": {"datum": {"year": 2026, "month": 6, "date": 4, "hours": 18, "utc": true}, "type": "temporal", "axis": null},
            "x2": {"datum": {"year": 2026, "month": 9, "date": 14, "hours": 16, "utc": true}},
            "y": {"field": "p", "type": "quantitative", "axis": null}
          }
        },
        {
          "data": {"values": [
            {"p": 13.169, "f": "1.618", "s": "1.618 (13.169)"},
            {"p": 12.058, "f": "1.414", "s": "1.414 (12.058)"},
            {"p": 11.284, "f": "1.272", "s": "1.272 (11.284)"},
            {"p": 9.802, "f": "1", "s": "1 (9.802)"}
          ]},
          "resolve": {"axis": {"x": "independent", "y": "independent"}},
          "layer": [
            {
              "mark": {"type": "rule", "strokeWidth": 2},
              "encoding": {
                "x": {"datum": {"year": 2026, "month": 7, "date": 31, "hours": 12, "utc": true}, "type": "temporal", "axis": null},
                "x2": {"datum": {"year": 2026, "month": 9, "date": 1, "hours": 20, "utc": true}},
                "y": {"field": "p", "type": "quantitative", "axis": null},
                "stroke": {"field": "f", "type": "nominal", "legend": null,
                           "scale": {"domain": ["1.618", "1.414", "1.272", "1"], "range": ["#2962ff", "#f23645", "#8d6e63", "#3358d4"]}}
              }
            },
            {
              "mark": {"type": "text", "align": "left", "baseline": "middle", "dy": -12, "fontSize": 12},
              "encoding": {
                "x": {"datum": {"year": 2026, "month": 9, "date": 2, "hours": 8, "utc": true}, "type": "temporal", "axis": null},
                "y": {"field": "p", "type": "quantitative", "axis": null},
                "text": {"field": "s"},
                "fill": {"field": "f", "type": "nominal", "legend": null,
                         "scale": {"domain": ["1.618", "1.414", "1.272", "1"], "range": ["#2962ff", "#f23645", "#f7a21b", "#787b86"]}}
              }
            }
          ]
        },
        {
          "data": {"values": [
            {"t1": "2026-07-30T18:00Z", "p1": 7.12, "t2": "2026-08-25T14:00Z", "p2": 5.485},
            {"t1": "2026-07-30T18:00Z", "p1": 5.364, "t2": "2026-08-25T14:00Z", "p2": 3.74}
          ]},
          "mark": {"type": "rule", "color": "#131722", "strokeWidth": 2},
          "encoding": {
            "x": {"field": "t1", "type": "temporal", "axis": null},
            "x2": {"field": "t2"},
            "y": {"field": "p1", "type": "quantitative", "axis": null},
            "y2": {"field": "p2"}
          }
        },
        {
          "data": {"values": [{"t1": "2026-07-30T18:00Z", "p1": 6.24, "t2": "2026-08-25T14:00Z", "p2": 4.61}]},
          "mark": {"type": "rule", "color": "#50535e", "strokeWidth": 1, "strokeDash": [5, 4]},
          "encoding": {
            "x": {"field": "t1", "type": "temporal", "axis": null},
            "x2": {"field": "t2"},
            "y": {"field": "p1", "type": "quantitative", "axis": null},
            "y2": {"field": "p2"}
          }
        },
        {
          "data": {"values": [{"t1": "2026-06-21T12:00Z", "p1": 2.372, "t2": "2026-09-14T02:00Z", "p2": 5.465}]},
          "mark": {"type": "rule", "color": "#e91e63", "strokeWidth": 2},
          "encoding": {
            "x": {"field": "t1", "type": "temporal", "axis": null},
            "x2": {"field": "t2"},
            "y": {"field": "p1", "type": "quantitative", "axis": null},
            "y2": {"field": "p2"}
          }
        },
        {
          "data": {"values": [{"t": "2026-08-12T19:00Z", "p": 6.51, "s": "Descending Channel Breakout"}]},
          "mark": {"type": "text", "angle": 12, "fontSize": 14, "color": "#6554c0", "align": "center", "baseline": "middle"},
          "encoding": {
            "x": {"field": "t", "type": "temporal", "axis": null},
            "y": {"field": "p", "type": "quantitative", "axis": null},
            "text": {"field": "s"}
          }
        },
        {
          "data": {"values": [
            {"p": 13.183, "k": "Resistance Zone"}, {"p": 12.038, "k": "Resistance Zone"}, {"p": 11.293, "k": "Resistance Zone"}, {"p": 9.786, "k": "Resistance Zone"},
            {"p": 4.91, "k": "Support Zone"}, {"p": 3.793, "k": "Support Zone"}, {"p": 2.666, "k": "Support Zone"}
          ]},
          "mark": {"type": "text", "align": "right", "baseline": "middle", "dx": -5, "fontSize": 13, "color": "#131722"},
          "encoding": {
            "x": {"datum": {"year": 2026, "month": 9, "date": 20, "utc": true}, "type": "temporal", "axis": null},
            "y": {"field": "p", "type": "quantitative", "axis": null},
            "text": {"field": "k"}
          }
        },
        {
          "data": {"values": [{}]},
          "resolve": {"axis": {"x": "independent", "y": "independent"}},
          "encoding": {
            "x": {"datum": {"year": 2026, "month": 6, "date": 4, "hours": 18, "utc": true}, "type": "temporal", "axis": null}
          },
          "layer": [
            {"mark": {"type": "text", "text": "MetaDAO / USDC · 4h · Coinbase", "align": "left", "baseline": "middle", "dx": 8, "fontSize": 12, "color": "#131722"},
             "encoding": {"y": {"datum": 13.31, "type": "quantitative", "axis": null}}},
            {"mark": {"type": "text", "text": "O", "align": "left", "baseline": "middle", "dx": 193, "fontSize": 12, "color": "#131722"},
             "encoding": {"y": {"datum": 13.31, "type": "quantitative", "axis": null}}},
            {"mark": {"type": "text", "text": "6.838", "align": "left", "baseline": "middle", "dx": 202, "fontSize": 12, "color": "#089981"},
             "encoding": {"y": {"datum": 13.31, "type": "quantitative", "axis": null}}},
            {"mark": {"type": "text", "text": "H", "align": "left", "baseline": "middle", "dx": 239, "fontSize": 12, "color": "#131722"},
             "encoding": {"y": {"datum": 13.31, "type": "quantitative", "axis": null}}},
            {"mark": {"type": "text", "text": "7.619", "align": "left", "baseline": "middle", "dx": 248, "fontSize": 12, "color": "#089981"},
             "encoding": {"y": {"datum": 13.31, "type": "quantitative", "axis": null}}},
            {"mark": {"type": "text", "text": "L", "align": "left", "baseline": "middle", "dx": 285, "fontSize": 12, "color": "#131722"},
             "encoding": {"y": {"datum": 13.31, "type": "quantitative", "axis": null}}},
            {"mark": {"type": "text", "text": "6.720", "align": "left", "baseline": "middle", "dx": 292, "fontSize": 12, "color": "#089981"},
             "encoding": {"y": {"datum": 13.31, "type": "quantitative", "axis": null}}},
            {"mark": {"type": "text", "text": "C", "align": "left", "baseline": "middle", "dx": 324, "fontSize": 12, "color": "#131722"},
             "encoding": {"y": {"datum": 13.31, "type": "quantitative", "axis": null}}},
            {"mark": {"type": "text", "text": "6.961", "align": "left", "baseline": "middle", "dx": 333, "fontSize": 12, "color": "#089981"},
             "encoding": {"y": {"datum": 13.31, "type": "quantitative", "axis": null}}},
            {"mark": {"type": "text", "text": "+0.121 (+1.77%)", "align": "left", "baseline": "middle", "dx": 370, "fontSize": 12, "color": "#089981"},
             "encoding": {"y": {"datum": 13.31, "type": "quantitative", "axis": null}}},
            {"mark": {"type": "text", "text": "EMA (50, close)", "align": "left", "baseline": "middle", "dx": 8, "fontSize": 12, "color": "#131722"},
             "encoding": {"y": {"datum": 12.98, "type": "quantitative", "axis": null}}},
            {"mark": {"type": "text", "text": "5.210", "align": "left", "baseline": "middle", "dx": 100, "fontSize": 12, "color": "#f7a21b"},
             "encoding": {"y": {"datum": 12.98, "type": "quantitative", "axis": null}}}
          ]
        },
        {
          "data": {"values": [{"p": 13.183, "s": "13.183"}, {"p": 12.038, "s": "12.038"}, {"p": 11.293, "s": "11.293"}]},
          "resolve": {"axis": {"x": "independent", "y": "independent"}},
          "encoding": {
            "x": {"datum": {"year": 2026, "month": 9, "date": 20, "utc": true}, "type": "temporal", "axis": null},
            "y": {"field": "p", "type": "quantitative", "axis": null}
          },
          "layer": [
            {"mark": {"type": "rect", "color": "#2962ff", "xOffset": 4, "x2Offset": 54, "yOffset": -8, "y2Offset": 8},
             "encoding": {"x2": {"datum": {"year": 2026, "month": 9, "date": 20, "utc": true}}, "y2": {"field": "p"}}},
            {"mark": {"type": "text", "color": "#ffffff", "dx": 29, "fontSize": 12, "align": "center", "baseline": "middle"},
             "encoding": {"text": {"field": "s"}}}
          ]
        },
        {
          "data": {"values": [{"p": 9.786, "s": "9.786"}, {"p": 3.793, "s": "3.793"}, {"p": 2.666, "s": "2.666"}]},
          "resolve": {"axis": {"x": "independent", "y": "independent"}},
          "encoding": {
            "x": {"datum": {"year": 2026, "month": 9, "date": 20, "utc": true}, "type": "temporal", "axis": null},
            "y": {"field": "p", "type": "quantitative", "axis": null}
          },
          "layer": [
            {"mark": {"type": "rect", "color": "#2962ff", "xOffset": 4, "x2Offset": 47, "yOffset": -8, "y2Offset": 8},
             "encoding": {"x2": {"datum": {"year": 2026, "month": 9, "date": 20, "utc": true}}, "y2": {"field": "p"}}},
            {"mark": {"type": "text", "color": "#ffffff", "dx": 25.5, "fontSize": 12, "align": "center", "baseline": "middle"},
             "encoding": {"text": {"field": "s"}}}
          ]
        },
        {
          "data": {"values": [{"p": 7.901}]},
          "resolve": {"axis": {"x": "independent", "y": "independent"}},
          "encoding": {
            "x": {"datum": {"year": 2026, "month": 9, "date": 20, "utc": true}, "type": "temporal", "axis": null},
            "y": {"field": "p", "type": "quantitative", "axis": null}
          },
          "layer": [
            {"mark": {"type": "rect", "color": "#e1ebf7", "xOffset": -31, "x2Offset": 47, "yOffset": -8, "y2Offset": 8},
             "encoding": {"x2": {"datum": {"year": 2026, "month": 9, "date": 20, "utc": true}}, "y2": {"field": "p"}}},
            {"mark": {"type": "text", "text": "High", "color": "#131722", "dx": -14, "fontSize": 12, "align": "center", "baseline": "middle"}},
            {"mark": {"type": "text", "text": "7.901", "color": "#131722", "dx": 25.5, "fontSize": 12, "align": "center", "baseline": "middle"}}
          ]
        },
        {
          "data": {"values": [{"p": 6.961}]},
          "resolve": {"axis": {"x": "independent", "y": "independent"}},
          "encoding": {
            "x": {"datum": {"year": 2026, "month": 9, "date": 20, "utc": true}, "type": "temporal", "axis": null},
            "y": {"field": "p", "type": "quantitative", "axis": null}
          },
          "layer": [
            {"mark": {"type": "rect", "color": "#089981", "xOffset": -62, "x2Offset": 3, "yOffset": -7, "y2Offset": 10},
             "encoding": {"x2": {"datum": {"year": 2026, "month": 9, "date": 20, "utc": true}}, "y2": {"field": "p"}}},
            {"mark": {"type": "rect", "color": "#089981", "xOffset": 4, "x2Offset": 65, "yOffset": -7, "y2Offset": 24},
             "encoding": {"x2": {"datum": {"year": 2026, "month": 9, "date": 20, "utc": true}}, "y2": {"field": "p"}}},
            {"mark": {"type": "text", "text": "METAUSDC", "color": "#ffffff", "dx": -29.5, "dy": 1.5, "fontSize": 12, "align": "center", "baseline": "middle"}},
            {"mark": {"type": "text", "text": "6.961", "color": "#ffffff", "dx": 9, "dy": 1, "fontSize": 12, "align": "left", "baseline": "middle"}},
            {"mark": {"type": "text", "text": "01:38:18", "color": "#ffffff", "dx": 9, "dy": 15, "fontSize": 12, "align": "left", "baseline": "middle"}}
          ]
        },
        {
          "data": {"values": [{"p": 5.228}]},
          "resolve": {"axis": {"x": "independent", "y": "independent"}},
          "encoding": {
            "x": {"datum": {"year": 2026, "month": 9, "date": 20, "utc": true}, "type": "temporal", "axis": null},
            "y": {"field": "p", "type": "quantitative", "axis": null}
          },
          "layer": [
            {"mark": {"type": "rect", "color": "#4a4a4a", "xOffset": 4, "x2Offset": 47, "yOffset": -8, "y2Offset": 9},
             "encoding": {"x2": {"datum": {"year": 2026, "month": 9, "date": 20, "utc": true}}, "y2": {"field": "p"}}},
            {"mark": {"type": "text", "text": "5.228", "color": "#ffffff", "dx": 25.5, "dy": 0.5, "fontSize": 12, "align": "center", "baseline": "middle"}}
          ]
        },
        {
          "data": {"values": [{"p": 5.21}]},
          "resolve": {"axis": {"x": "independent", "y": "independent"}},
          "encoding": {
            "x": {"datum": {"year": 2026, "month": 9, "date": 20, "utc": true}, "type": "temporal", "axis": null},
            "y": {"field": "p", "type": "quantitative", "axis": null}
          },
          "layer": [
            {"mark": {"type": "rect", "color": "#ff9800", "xOffset": -29, "x2Offset": 47, "yOffset": 8.5, "y2Offset": 25.5},
             "encoding": {"x2": {"datum": {"year": 2026, "month": 9, "date": 20, "utc": true}}, "y2": {"field": "p"}}},
            {"mark": {"type": "text", "text": "EMA", "color": "#131722", "dx": -13, "dy": 17, "fontSize": 12, "align": "center", "baseline": "middle"}},
            {"mark": {"type": "text", "text": "5.210", "color": "#131722", "dx": 25.5, "dy": 17, "fontSize": 12, "align": "center", "baseline": "middle"}}
          ]
        },
        {
          "data": {"values": [{"p": 4.91}]},
          "resolve": {"axis": {"x": "independent", "y": "independent"}},
          "encoding": {
            "x": {"datum": {"year": 2026, "month": 9, "date": 20, "utc": true}, "type": "temporal", "axis": null},
            "y": {"field": "p", "type": "quantitative", "axis": null}
          },
          "layer": [
            {"mark": {"type": "rect", "color": "#2962ff", "xOffset": 4, "x2Offset": 47, "yOffset": 11, "y2Offset": 27},
             "encoding": {"x2": {"datum": {"year": 2026, "month": 9, "date": 20, "utc": true}}, "y2": {"field": "p"}}},
            {"mark": {"type": "text", "text": "4.910", "color": "#ffffff", "dx": 25.5, "dy": 19, "fontSize": 12, "align": "center", "baseline": "middle"}}
          ]
        },
        {
          "data": {"values": [{"top": 13.51, "bottom": 2.36}]},
          "mark": {"type": "rect", "fillOpacity": 0, "stroke": "#e0e3eb", "strokeWidth": 1, "x2Offset": 70},
          "encoding": {
            "x": {"datum": {"year": 2026, "month": 6, "date": 4, "hours": 18, "utc": true}, "type": "temporal", "axis": null},
            "x2": {"datum": {"year": 2026, "month": 9, "date": 20, "utc": true}},
            "y": {"field": "top", "type": "quantitative", "axis": null},
            "y2": {"field": "bottom"}
          }
        }
      ]
    },
    {
      "width": 1743,
      "height": 188,
      "resolve": {"axis": {"x": "independent", "y": "independent"}},
      "layer": [
        {
          "data": {"values": [{"a": 70, "b": 30}]},
          "mark": {"type": "rect", "color": "#7e57c2", "opacity": 0.1},
          "encoding": {
            "y": {"field": "a", "type": "quantitative", "axis": null},
            "y2": {"field": "b"}
          }
        },
        {
          "data": {"values": [{"v": 70}, {"v": 30}]},
          "mark": {"type": "rule", "color": "#787b86", "strokeDash": [6, 5], "strokeWidth": 1},
          "encoding": {"y": {"field": "v", "type": "quantitative", "axis": null}}
        },
        {
          "data": {"values": [{"v": 50}]},
          "mark": {"type": "rule", "color": "#787b86", "strokeDash": [6, 5], "strokeWidth": 1, "opacity": 0.5},
          "encoding": {"y": {"field": "v", "type": "quantitative", "axis": null}}
        },
        {
          "data": {"values": [{"top": 90.6, "bottom": 13.25}]},
          "mark": {"type": "rect", "fillOpacity": 0, "stroke": "#e0e3eb", "strokeWidth": 1, "x2Offset": 70, "y2Offset": 29},
          "encoding": {
            "x": {"datum": {"year": 2026, "month": 6, "date": 4, "hours": 18, "utc": true}, "type": "temporal", "axis": null},
            "x2": {"datum": {"year": 2026, "month": 9, "date": 20, "utc": true}},
            "y": {"field": "top", "type": "quantitative", "axis": null},
            "y2": {"field": "bottom"}
          }
        },
        {
          "data": {"name": "c"},
          "mark": {"type": "line", "color": "#7e57c2", "strokeWidth": 1},
          "encoding": {
            "x": {"field": "t", "type": "temporal",
                  "scale": {"type": "utc", "nice": false, "domain": [{"year": 2026, "month": 6, "date": 4, "hours": 18, "utc": true}, {"year": 2026, "month": 9, "date": 20, "utc": true}]},
                  "axis": {
                    "values": [
                      {"year": 2026, "month": 6, "date": 5, "utc": true}, {"year": 2026, "month": 6, "date": 9, "utc": true},
                      {"year": 2026, "month": 6, "date": 13, "utc": true}, {"year": 2026, "month": 6, "date": 18, "utc": true},
                      {"year": 2026, "month": 6, "date": 22, "utc": true}, {"year": 2026, "month": 6, "date": 26, "utc": true},
                      {"year": 2026, "month": 7, "date": 1, "utc": true}, {"year": 2026, "month": 7, "date": 5, "utc": true},
                      {"year": 2026, "month": 7, "date": 9, "utc": true}, {"year": 2026, "month": 7, "date": 13, "utc": true},
                      {"year": 2026, "month": 7, "date": 17, "utc": true}, {"year": 2026, "month": 7, "date": 21, "utc": true},
                      {"year": 2026, "month": 7, "date": 25, "utc": true}, {"year": 2026, "month": 8, "date": 1, "utc": true},
                      {"year": 2026, "month": 8, "date": 5, "utc": true}, {"year": 2026, "month": 8, "date": 9, "utc": true},
                      {"year": 2026, "month": 8, "date": 13, "utc": true}, {"year": 2026, "month": 8, "date": 17, "utc": true},
                      {"year": 2026, "month": 8, "date": 21, "utc": true}, {"year": 2026, "month": 8, "date": 25, "utc": true},
                      {"year": 2026, "month": 9, "date": 1, "utc": true}, {"year": 2026, "month": 9, "date": 5, "utc": true},
                      {"year": 2026, "month": 9, "date": 9, "utc": true}, {"year": 2026, "month": 9, "date": 13, "utc": true},
                      {"year": 2026, "month": 9, "date": 17, "utc": true}
                    ],
                    "labelExpr": "utcdate(datum.value) == 1 ? utcFormat(datum.value, '%b') : utcFormat(datum.value, '%-d')",
                    "labelPadding": 8,
                    "labelOverlap": false,
                    "labelFlush": false,
                    "title": "17 TradingView",
                    "titleX": 2,
                    "titleY": 60,
                    "titleAlign": "left",
                    "titleBaseline": "middle",
                    "titleFontSize": 22,
                    "titleFontWeight": "bold",
                    "titleFont": "Inter",
                    "titleColor": "#131722"
                  }},
            "y": {"field": "r", "type": "quantitative", "scale": {"domain": [13.25, 90.6], "nice": false, "zero": false},
                  "axis": {"orient": "right", "values": [20, 40, 60], "format": ".2f", "labelPadding": 12, "title": null}}
          }
        },
        {
          "data": {"values": [{}]},
          "resolve": {"axis": {"x": "independent", "y": "independent"}},
          "encoding": {
            "x": {"datum": {"year": 2026, "month": 6, "date": 4, "hours": 18, "utc": true}, "type": "temporal", "axis": null},
            "y": {"datum": 83.6, "type": "quantitative", "axis": null}
          },
          "layer": [
            {"mark": {"type": "text", "text": "RSI (14, close)", "align": "left", "baseline": "middle", "dx": 8, "fontSize": 12, "color": "#131722"}},
            {"mark": {"type": "text", "text": "82.66", "align": "left", "baseline": "middle", "dx": 93, "fontSize": 12, "color": "#7e57c2"}}
          ]
        },
        {
          "data": {"values": [{"p": 82.66}]},
          "resolve": {"axis": {"x": "independent", "y": "independent"}},
          "encoding": {
            "x": {"datum": {"year": 2026, "month": 9, "date": 20, "utc": true}, "type": "temporal", "axis": null},
            "y": {"field": "p", "type": "quantitative", "axis": null}
          },
          "layer": [
            {"mark": {"type": "rect", "color": "#7e57c2", "xOffset": -21, "x2Offset": 3, "yOffset": -8, "y2Offset": 8},
             "encoding": {"x2": {"datum": {"year": 2026, "month": 9, "date": 20, "utc": true}}, "y2": {"field": "p"}}},
            {"mark": {"type": "rect", "color": "#7e57c2", "xOffset": 4, "x2Offset": 47, "yOffset": -8, "y2Offset": 8},
             "encoding": {"x2": {"datum": {"year": 2026, "month": 9, "date": 20, "utc": true}}, "y2": {"field": "p"}}},
            {"mark": {"type": "text", "text": "RSI", "color": "#ffffff", "dx": -9, "fontSize": 12, "align": "center", "baseline": "middle"}},
            {"mark": {"type": "text", "text": "82.66", "color": "#ffffff", "dx": 25.5, "fontSize": 12, "align": "center", "baseline": "middle"}}
          ]
        }
      ]
    }
  ]
}
